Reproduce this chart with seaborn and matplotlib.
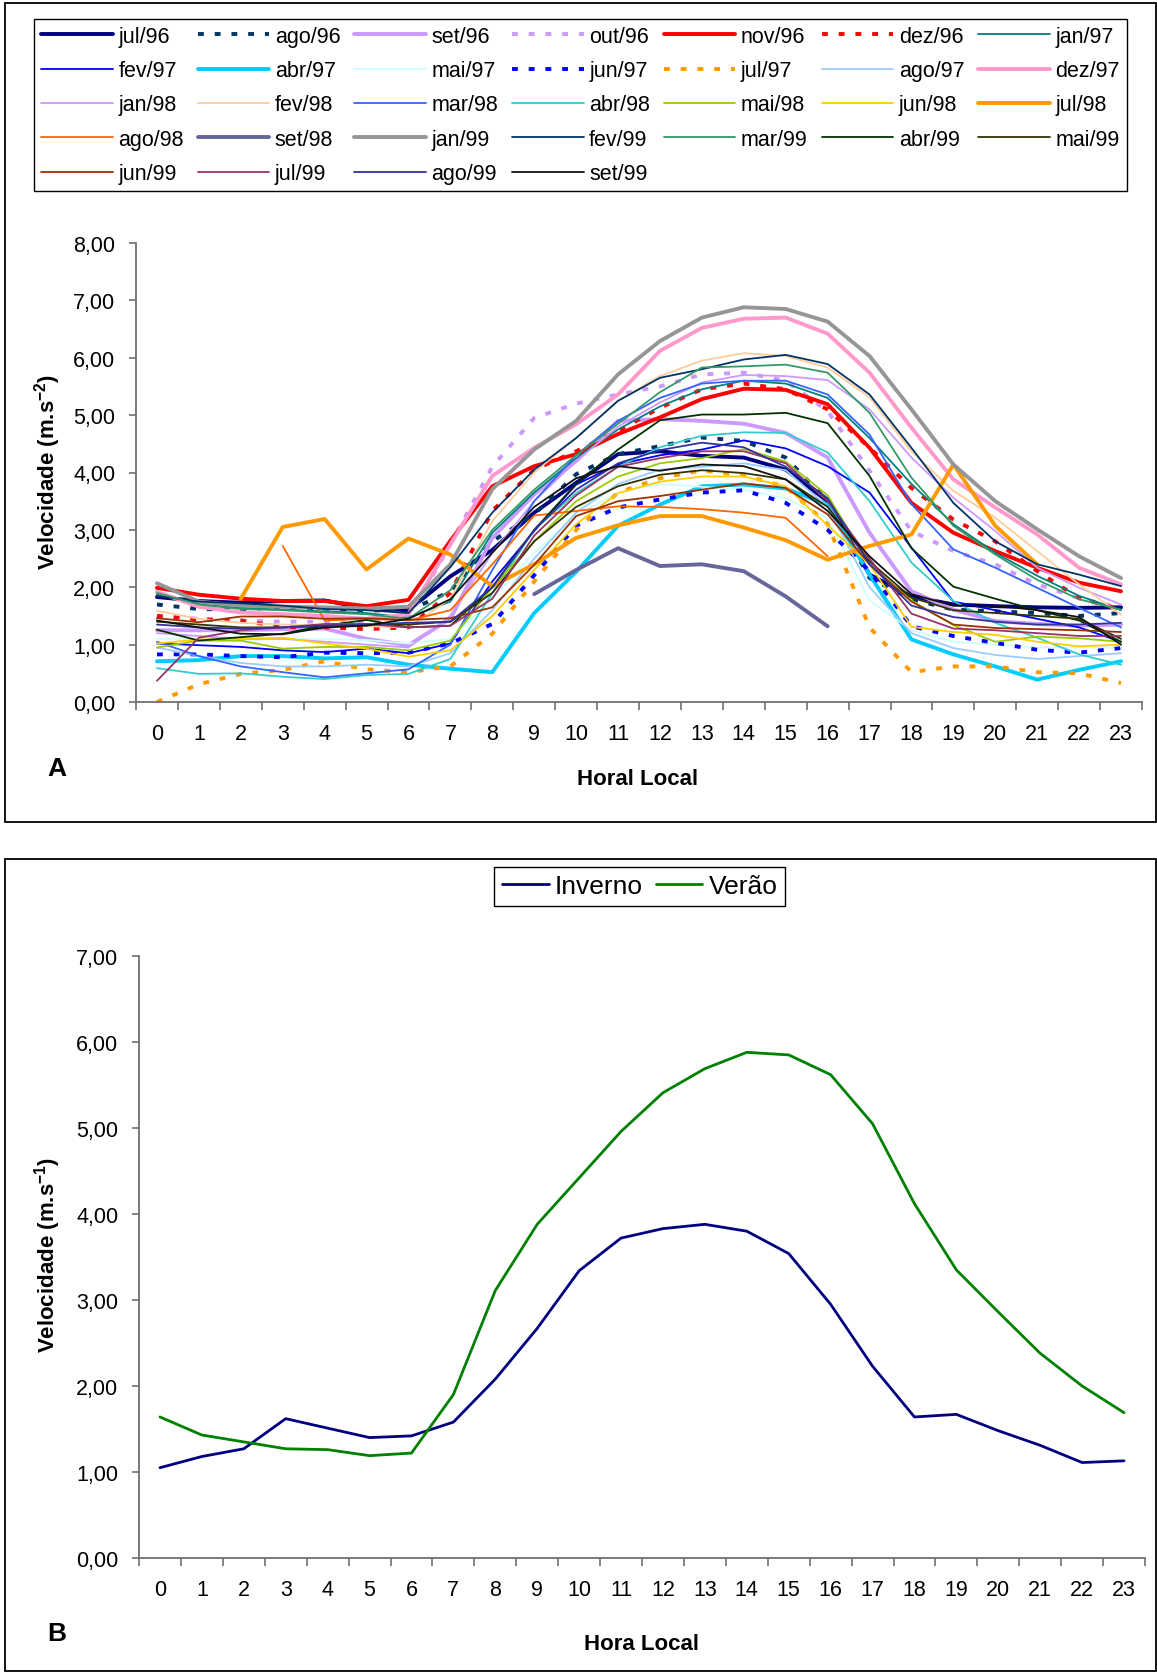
import numpy as np
import pandas as pd
import matplotlib
matplotlib.use('Agg')
import matplotlib.pyplot as plt
from matplotlib.patches import Rectangle
from matplotlib.ticker import FuncFormatter
import seaborn as sns

#%% dados
horas = list(range(24))
nan = np.nan

# painel A - velocidade media horaria de cada mes
jul96 = [1.83,1.76,1.73,1.76,1.77,1.63,1.60,2.19,2.65,3.30,3.82,4.32,4.37,4.29,4.26,4.05,3.50,2.22,1.84,1.70,1.67,1.65,1.64,1.65]
ago96 = [1.70,1.62,1.61,1.66,1.63,1.60,1.59,1.93,2.80,3.27,3.97,4.32,4.46,4.61,4.55,4.26,3.50,2.16,1.79,1.61,1.58,1.55,1.50,1.55]
set96 = [1.25,1.25,1.25,1.27,1.28,1.10,0.99,1.45,2.86,3.62,4.20,4.90,4.93,4.90,4.85,4.69,4.26,2.95,1.93,1.61,1.41,1.36,1.33,1.35]
out96 = [1.50,1.45,1.42,1.40,1.40,1.38,1.45,2.75,4.10,4.95,5.20,5.36,5.50,5.71,5.74,5.60,5.07,4.03,2.98,2.63,2.40,2.05,1.81,1.64]
nov96 = [1.99,1.87,1.80,1.76,1.76,1.67,1.78,2.81,3.76,4.11,4.32,4.67,4.96,5.28,5.46,5.44,5.19,4.43,3.47,2.95,2.63,2.34,2.08,1.93]
dez96 = [1.50,1.44,1.42,1.31,1.30,1.27,1.30,1.90,3.33,4.05,4.37,4.72,5.13,5.45,5.55,5.45,5.10,4.43,3.73,3.18,2.80,2.28,1.81,1.61]
jan97 = [1.88,1.70,1.64,1.61,1.58,1.55,1.47,1.75,2.95,3.65,4.25,4.75,5.15,5.45,5.60,5.55,5.30,4.60,3.80,3.10,2.60,2.20,1.85,1.60]
fev97 = [1.02,0.99,0.96,0.90,0.87,0.93,0.85,1.02,2.10,2.98,3.79,4.14,4.30,4.40,4.56,4.42,4.11,3.65,2.69,1.75,1.60,1.45,1.30,1.05]
abr97 = [0.71,0.73,0.80,0.80,0.76,0.78,0.65,0.58,0.52,1.55,2.27,3.07,3.44,3.76,3.79,3.72,3.44,2.22,1.09,0.83,0.62,0.39,0.56,0.71]
mai97 = [1.10,1.10,1.08,1.10,1.10,1.08,1.02,1.10,1.80,2.60,3.25,3.65,3.80,3.75,3.70,3.55,3.20,1.77,1.25,1.05,1.00,0.95,0.95,0.95]
jun97 = [0.83,0.83,0.80,0.78,0.86,0.85,0.86,1.02,1.36,2.21,3.07,3.39,3.53,3.65,3.69,3.47,3.00,2.28,1.32,1.15,1.03,0.91,0.86,0.94]
jul97 = [0.00,0.31,0.49,0.56,0.71,0.57,0.52,0.62,1.19,2.10,3.00,3.65,3.90,4.04,3.95,3.75,3.10,1.30,0.52,0.62,0.62,0.52,0.50,0.33]
ago97 = [0.95,0.80,0.68,0.62,0.62,0.65,0.62,0.85,1.60,2.50,3.30,3.80,4.05,4.10,4.16,4.04,3.40,2.00,1.20,0.94,0.82,0.75,0.80,0.85]
dez97 = [1.92,1.66,1.56,1.53,1.50,1.45,1.53,2.75,3.94,4.43,4.84,5.36,6.12,6.52,6.68,6.70,6.42,5.74,4.78,3.88,3.39,2.92,2.34,2.05]
jan98 = [1.20,1.15,1.10,1.10,1.05,1.00,0.95,1.50,2.60,3.50,4.20,4.80,5.22,5.57,5.70,5.68,5.61,5.10,4.26,3.56,2.98,2.34,1.99,1.70]
fev98 = [1.59,1.45,1.38,1.35,1.33,1.32,1.30,1.80,3.15,4.00,4.60,5.25,5.68,5.95,6.08,6.03,5.83,5.31,4.37,3.68,3.21,2.63,2.05,1.52]
mar98 = [1.05,0.80,0.62,0.52,0.43,0.50,0.57,1.00,2.30,3.50,4.30,4.90,5.30,5.55,5.60,5.60,5.36,4.66,3.45,2.66,2.34,1.99,1.64,1.30]
abr98 = [0.59,0.49,0.50,0.44,0.40,0.47,0.49,0.75,1.90,3.00,3.64,4.10,4.44,4.64,4.70,4.69,4.35,3.50,2.43,1.76,1.38,1.12,0.83,0.65]
mai98 = [0.95,1.07,1.07,0.93,0.96,0.96,0.90,1.07,2.00,2.80,3.50,3.93,4.16,4.25,4.41,4.19,3.60,2.40,1.77,1.34,1.05,1.14,1.11,1.05]
jun98 = [1.02,1.09,1.10,1.12,1.02,0.93,0.79,0.90,1.50,2.30,3.10,3.64,3.84,3.93,3.93,3.76,3.08,2.40,1.31,1.22,1.17,1.05,0.97,1.00]
jul98 = [nan,nan,1.80,3.05,3.19,2.31,2.85,2.57,2.02,2.40,2.86,3.08,3.24,3.24,3.04,2.82,2.48,2.72,2.92,4.14,3.07,2.40,nan,nan]
ago98 = [nan,nan,nan,2.72,1.42,1.45,1.42,1.60,2.40,3.25,3.33,3.41,3.40,3.36,3.30,3.21,2.54,nan,nan,nan,nan,nan,nan,nan]
set98 = [nan,nan,nan,nan,nan,nan,nan,nan,nan,1.88,2.30,2.68,2.37,2.40,2.28,1.84,1.32,nan,nan,nan,nan,nan,nan,nan]
jan99 = [2.07,1.75,1.68,1.66,1.65,1.63,1.66,2.40,3.71,4.40,4.90,5.71,6.29,6.70,6.88,6.85,6.63,6.03,5.10,4.14,3.50,3.01,2.54,2.16]
fev99 = [1.85,1.75,1.72,1.68,1.62,1.60,1.55,2.35,3.30,4.05,4.60,5.25,5.65,5.80,5.97,6.05,5.89,5.36,4.43,3.47,2.80,2.40,2.22,2.02]
mar99 = [1.90,1.70,1.62,1.60,1.56,1.53,1.45,1.95,3.00,3.70,4.30,4.85,5.40,5.83,5.85,5.88,5.74,5.04,3.91,3.07,2.57,2.13,1.79,1.61]
abr99 = [1.26,1.07,1.13,1.19,1.33,1.43,1.30,1.33,2.00,3.00,3.80,4.40,4.91,5.01,5.01,5.04,4.86,3.94,2.68,2.01,1.80,1.60,1.42,1.05]
mai99 = [1.40,1.35,1.30,1.30,1.33,1.35,1.35,1.40,1.90,2.80,3.40,3.76,3.96,4.04,3.99,3.88,3.40,2.45,1.82,1.60,1.55,1.50,1.45,1.10]
jun99 = [1.46,1.39,1.49,1.49,1.45,1.46,1.43,1.46,1.65,2.39,3.24,3.50,3.59,3.70,3.81,3.73,3.27,2.40,1.75,1.35,1.29,1.27,1.25,1.22]
jul99 = [0.37,1.12,1.25,1.30,1.36,1.36,1.30,1.33,1.80,2.90,3.60,4.10,4.25,4.37,4.37,4.16,3.50,2.50,1.54,1.28,1.25,1.20,1.15,1.15]
ago99 = [1.35,1.30,1.28,1.30,1.33,1.35,1.38,1.40,2.00,3.00,3.70,4.16,4.39,4.52,4.44,4.10,3.55,2.40,1.68,1.48,1.40,1.35,1.35,1.38]
set99 = [1.42,1.30,1.19,1.18,1.30,1.33,1.45,1.79,2.60,3.40,3.90,4.11,4.03,4.14,4.11,3.88,3.33,2.54,1.88,1.68,1.68,1.60,1.48,1.00]

meses = ['jul/96','ago/96','set/96','out/96','nov/96','dez/96','jan/97',
         'fev/97','abr/97','mai/97','jun/97','jul/97','ago/97','dez/97',
         'jan/98','fev/98','mar/98','abr/98','mai/98','jun/98','jul/98',
         'ago/98','set/98','jan/99','fev/99','mar/99','abr/99','mai/99',
         'jun/99','jul/99','ago/99','set/99']
series = [jul96, ago96, set96, out96, nov96, dez96, jan97,
          fev97, abr97, mai97, jun97, jul97, ago97, dez97,
          jan98, fev98, mar98, abr98, mai98, jun98, jul98,
          ago98, set98, jan99, fev99, mar99, abr99, mai99,
          jun99, jul99, ago99, set99]

# painel B - medias de inverno e verao
inverno = [1.05,1.18,1.27,1.62,1.51,1.40,1.42,1.58,2.08,2.67,3.34,3.72,3.83,3.88,3.80,3.54,2.95,2.23,1.64,1.67,1.48,1.31,1.11,1.13]
verao = [1.64,1.43,1.35,1.27,1.26,1.19,1.22,1.90,3.11,3.88,4.42,4.96,5.41,5.69,5.88,5.85,5.62,5.05,4.12,3.35,2.86,2.38,2.00,1.69]

#%% estilos (paleta do Excel)
cores = ['#000080','#003366','#CC99FF','#CC99FF','#FF0000','#FF0000','#008080',
         '#0000FF','#00CCFF','#CCFFFF','#0000FF','#FF9900','#99CCFF','#FF99CC',
         '#CC99FF','#FFCC99','#3366FF','#33CCCC','#99CC00','#FFCC00','#FF9900',
         '#FF6600','#666699','#969696','#003366','#339966','#003300','#333300',
         '#993300','#993366','#333399','#111111']
grossas = {'jul/96','ago/96','set/96','out/96','nov/96','dez/96','abr/97','jun/97',
           'jul/97','dez/97','jul/98','set/98','jan/99'}
pontilhadas = {'ago/96','out/96','dez/96','jun/97','jul/97'}

dfA = pd.DataFrame({'hora': horas * len(meses),
                    'mes': np.repeat(meses, 24),
                    'vel': np.concatenate(series)})
dfB = pd.DataFrame({'hora': horas * 2,
                    'estacao': ['Inverno'] * 24 + ['Verão'] * 24,
                    'vel': inverno + verao})

#%% figura
sns.set_theme(style='white', rc={'text.color': 'black', 'axes.labelcolor': 'black',
                                 'xtick.color': 'black', 'ytick.color': 'black'})
plt.rcParams['font.family'] = ['Liberation Sans', 'DejaVu Sans']
plt.rcParams['mathtext.fontset'] = 'custom'
plt.rcParams['mathtext.rm'] = 'Liberation Sans:bold'
plt.rcParams['mathtext.it'] = 'Liberation Sans:bold'
plt.rcParams['mathtext.bf'] = 'Liberation Sans:bold'
plt.rcParams['mathtext.default'] = 'rm'

W, H = 1157, 1674
fig = plt.figure(figsize=(W / 100, H / 100), dpi=100)

def fx(px):
    return px / W

def fy(py):
    return 1 - py / H

cinza = '#707070'

# molduras dos dois graficos
fig.add_artist(Rectangle((fx(5), fy(823)), fx(1151), 819 / H, transform=fig.transFigure,
                         fill=False, ec='black', lw=1.3))
fig.add_artist(Rectangle((fx(5), fy(1672)), fx(1151), 812 / H, transform=fig.transFigure,
                         fill=False, ec='black', lw=1.3))

axA = fig.add_axes([fx(136), fy(703), fx(1142 - 136), (703 - 244) / H])
axB = fig.add_axes([fx(139), fy(1559), fx(1145 - 139), (1559 - 957) / H])

for mes, cor in zip(meses, cores):
    kw = dict(lw=2.8 if mes in grossas else 1.3, color=cor)
    if mes in pontilhadas:
        kw['linestyle'] = (0, (1.5, 2.8))
        kw['dash_capstyle'] = 'butt'
    sns.lineplot(data=dfA[dfA.mes == mes], x='hora', y='vel', ax=axA,
                 label=mes, errorbar=None, **kw)

sns.lineplot(data=dfB, x='hora', y='vel', hue='estacao', palette=['#000080', '#008000'],
             lw=2.0, ax=axB, errorbar=None)


def estilo(ax, ymax):
    ax.set_xlim(-0.5, 23.5)
    ax.set_ylim(0, ymax)
    ax.set_yticks(range(ymax + 1))
    ax.yaxis.set_major_formatter(FuncFormatter(lambda v, p: f'{v:.2f}'.replace('.', ',')))
    ax.set_xticks(horas)
    ax.set_xticks(np.arange(-0.5, 24, 1), minor=True)
    ax.tick_params(axis='x', which='major', bottom=True, length=0, pad=15, labelsize=15.5)
    ax.tick_params(axis='x', which='minor', bottom=True, length=6, width=1.2,
                   color=cinza, direction='out')
    ax.tick_params(axis='y', which='major', left=True, length=5, width=1.2, color=cinza,
                   direction='out', pad=10, labelsize=15.5)
    for s in ['top', 'right']:
        ax.spines[s].set_visible(False)
    for s in ['left', 'bottom']:
        ax.spines[s].set_color(cinza)
        ax.spines[s].set_linewidth(1.3)
    ax.set_xlabel('')
    ax.set_ylabel('')
    ax.grid(False)

estilo(axA, 8)
estilo(axB, 7)

# legenda A: Excel preenche por linhas, matplotlib por colunas
hA, lA = axA.get_legend_handles_labels()
ordem = [r * 7 + c for c in range(7) for r in range(5) if r * 7 + c < len(hA)]
legA = axA.legend([hA[i] for i in ordem], [lA[i] for i in ordem], ncol=7, mode='expand',
                  loc='center', bbox_to_anchor=(fx(34), fy(200), fx(1127 - 34), 188 / H),
                  bbox_transform=fig.transFigure, fontsize=15.5, fancybox=False,
                  edgecolor='black', framealpha=1, handlelength=3.33, handletextpad=0.26,
                  labelspacing=0.62, borderpad=0.33, borderaxespad=0, columnspacing=0.5)
legA.get_frame().set_linewidth(1.0)

hB, lB = axB.get_legend_handles_labels()
legB = axB.legend(hB, lB, ncol=2, loc='center', bbox_to_anchor=(fx(639.5), fy(887.5)),
                  bbox_transform=fig.transFigure, fontsize=19, fancybox=False,
                  edgecolor='black', framealpha=1, handlelength=1.78, handletextpad=0.23,
                  columnspacing=0.49, borderpad=0.29, borderaxespad=0)
legB.get_frame().set_linewidth(1.0)

# textos
fig.text(fx(57), fy(769), 'A', fontsize=19, fontweight='bold', ha='center', va='center')
fig.text(fx(57), fy(1634), 'B', fontsize=19, fontweight='bold', ha='center', va='center')
fig.text(fx(638), fy(780), 'Horal Local', fontsize=16, fontweight='bold', ha='center', va='center')
fig.text(fx(641), fy(1645), 'Hora Local', fontsize=16, fontweight='bold', ha='center', va='center')
fig.text(fx(48), fy(472), r'Velocidade (m.s$^{-2}$)', rotation=90, fontsize=16,
         fontweight='bold', ha='center', va='center')
fig.text(fx(48), fy(1255), r'Velocidade (m.s$^{-1}$)', rotation=90, fontsize=16,
         fontweight='bold', ha='center', va='center')

fig.savefig('out.png', dpi=100)
